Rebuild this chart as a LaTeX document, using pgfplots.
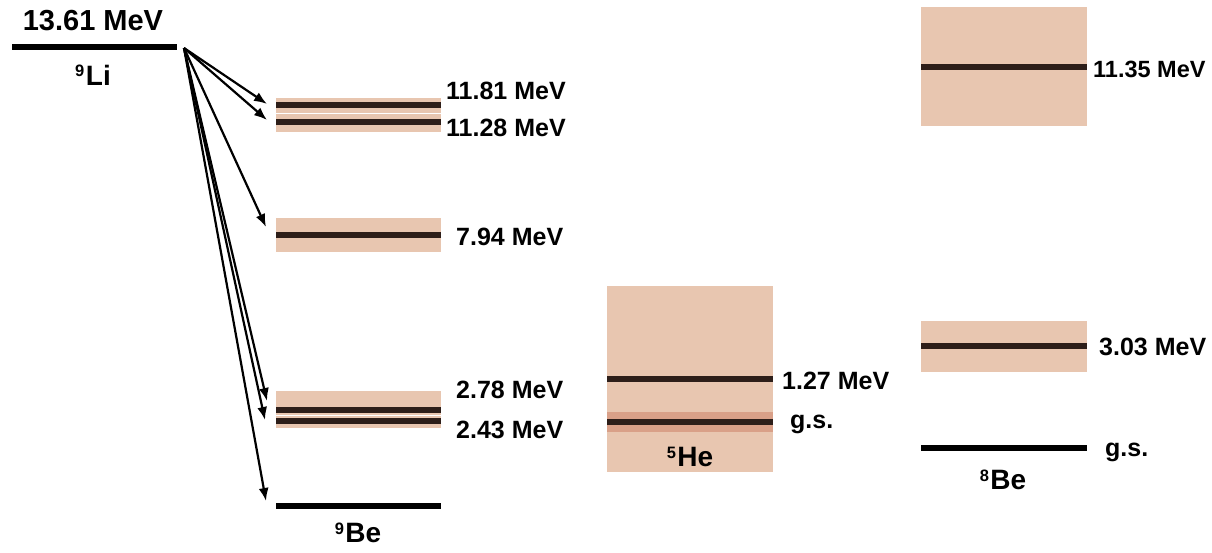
\documentclass[border=0pt]{standalone}
\usepackage{pgfplots}
\pgfplotsset{compat=1.18}
\usepackage{fontspec}
\setmainfont{Liberation Sans}
\usetikzlibrary{arrows.meta}
\definecolor{band}{RGB}{232,198,176}
\definecolor{bandgs}{RGB}{217,160,136}
\definecolor{lev}{RGB}{45,30,25}
\newcommand{\iso}[1]{\raisebox{8.5bp}{\fontsize{16.5bp}{16.5bp}\selectfont #1}\hspace{1.5bp}}
\tikzset{lbl/.style={font=\bfseries\fontsize{25bp}{27bp}\selectfont, inner sep=0pt, anchor=west},
  nuc/.style={font=\bfseries\fontsize{28bp}{30bp}\selectfont, inner sep=0pt}}
\begin{document}
\begin{tikzpicture}
\begin{axis}[
  scale only axis, width=1212bp, height=553bp,
  xmin=0, xmax=1212, ymin=0, ymax=553, y dir=reverse,
  hide axis, clip=false,
]
\addplot[draw=none] coordinates {(0,0) (1212,553)};
% 9Be bands
\addplot[fill=band, draw=none] coordinates {(276,98) (441,98) (441,113) (276,113)} --cycle;
\addplot[fill=band, draw=none] coordinates {(276,114) (441,114) (441,132) (276,132)} --cycle;
\addplot[fill=band, draw=none] coordinates {(276,218) (441,218) (441,252) (276,252)} --cycle;
\addplot[fill=band, draw=none] coordinates {(276,391) (441,391) (441,414.5) (276,414.5)} --cycle;
\addplot[fill=band, draw=none] coordinates {(276,415.5) (441,415.5) (441,428) (276,428)} --cycle;
% 5He band
\addplot[fill=band, draw=none] coordinates {(607,286) (773,286) (773,472) (607,472)} --cycle;
\addplot[fill=bandgs, draw=none] coordinates {(607,412) (773,412) (773,432) (607,432)} --cycle;
% 8Be bands
\addplot[fill=band, draw=none] coordinates {(921,7) (1087,7) (1087,126) (921,126)} --cycle;
\addplot[fill=band, draw=none] coordinates {(921,321) (1087,321) (1087,372) (921,372)} --cycle;
% levels
\addplot[black, line width=6bp] coordinates {(12,47) (177,47)};
\addplot[lev, line width=6bp] coordinates {(276,105) (441,105)};
\addplot[lev, line width=6bp] coordinates {(276,122) (441,122)};
\addplot[lev, line width=6bp] coordinates {(276,235) (441,235)};
\addplot[lev, line width=6bp] coordinates {(276,410) (441,410)};
\addplot[lev, line width=6bp] coordinates {(276,421) (441,421)};
\addplot[black, line width=6bp] coordinates {(276,506) (441,506)};
\addplot[lev, line width=6bp] coordinates {(607,379) (773,379)};
\addplot[lev, line width=6bp] coordinates {(607,422) (773,422)};
\addplot[lev, line width=6bp] coordinates {(921,67) (1087,67)};
\addplot[lev, line width=6bp] coordinates {(921,346) (1087,346)};
\addplot[black, line width=6bp] coordinates {(921,448) (1087,448)};
% arrows
\addplot[-{Latex[length=13bp,width=10bp]}, line width=2.2bp] coordinates {(184,48) (267,104)};
\addplot[-{Latex[length=13bp,width=10bp]}, line width=2.2bp] coordinates {(184,48) (267,120)};
\addplot[-{Latex[length=13bp,width=10bp]}, line width=2.2bp] coordinates {(184,48) (266,227)};
\addplot[-{Latex[length=13bp,width=10bp]}, line width=2.2bp] coordinates {(184,48) (267,401)};
\addplot[-{Latex[length=13bp,width=10bp]}, line width=2.2bp] coordinates {(184,48) (265,420)};
\addplot[-{Latex[length=13bp,width=10bp]}, line width=2.2bp] coordinates {(184,48) (266,501)};
% labels
\node[font=\bfseries\fontsize{29bp}{31bp}\selectfont, inner sep=0pt] at (axis cs:93,21) {13.61 MeV};
\node[nuc] at (axis cs:93,75) {\iso{9}Li};
\node[lbl] at (axis cs:446,91) {11.81 MeV};
\node[lbl] at (axis cs:446,128) {11.28 MeV};
\node[lbl] at (axis cs:456,237) {7.94 MeV};
\node[lbl] at (axis cs:456,390) {2.78 MeV};
\node[lbl] at (axis cs:456,430) {2.43 MeV};
\node[nuc] at (axis cs:358,533) {\iso{9}Be};
\node[lbl] at (axis cs:782,381) {1.27 MeV};
\node[lbl] at (axis cs:790,424) {g.s.};
\node[nuc] at (axis cs:690,457) {\iso{5}He};
\node[lbl, font=\bfseries\fontsize{23.5bp}{25bp}\selectfont] at (axis cs:1093,69) {11.35 MeV};
\node[lbl] at (axis cs:1099,347) {3.03 MeV};
\node[lbl] at (axis cs:1105,452) {g.s.};
\node[nuc] at (axis cs:1003,480) {\iso{8}Be};
\end{axis}
\end{tikzpicture}
\end{document}
